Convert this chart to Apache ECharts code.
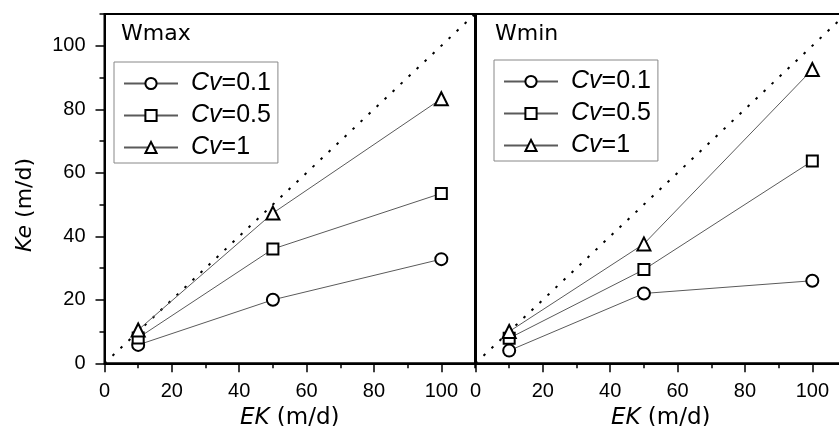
<!DOCTYPE html>
<html>
<head>
<meta charset="utf-8">
<script src="https://cdn.jsdelivr.net/npm/echarts@6/dist/echarts.min.js"></script>
<style>
  html, body { margin: 0; padding: 0; background: #fff; }
  #chart { width: 839px; height: 426px; }
</style>
</head>
<body>
<div id="chart"></div>
<script>
// EK values (m/d)
const ek = [10, 50, 100]
// Ke values, Wmax panel
const wmaxCv01 = [5.8, 20, 32.8]
const wmaxCv05 = [8, 36, 53.5]
const wmaxCv1 = [10.5, 47.3, 83.3]
// Wmin panel
const wminCv01 = [4, 22, 26]
const wminCv05 = [7.9, 29.5, 63.7]
const wminCv1 = [10, 37.6, 92.5]
// 1:1 reference line
const oneToOne = [[0, 0], [110, 110]]
const majorTicks = [0, 20, 40, 60, 80, 100]
const seriesNames = ['Cv=0.1', 'Cv=0.5', 'Cv=1']
const symbols = ['circle', 'rect', 'triangle']
const symbolSizes = [12, 11, 13]

const chart = echarts.init(document.getElementById('chart'))
const FONT = '"Liberation Sans", Arial, sans-serif'
const WIDE = '"DejaVu Sans", sans-serif'

const pair = (a, b) => a.map((x, i) => [x, b[i]])

function xMain(g) {
  return {
    gridIndex: g, type: 'value', position: 'bottom', min: 0, max: 110, interval: 20,
    name: '{i|EK} (m/d)', nameLocation: 'middle', nameGap: 32,
    nameTextStyle: { fontFamily: WIDE, fontSize: 23, color: '#000',
      rich: { i: { fontStyle: 'italic', fontFamily: WIDE, fontSize: 23, color: '#000' } } },
    axisLine: { show: true, lineStyle: { color: '#000', width: 2 } },
    axisTick: { show: true, inside: false, length: 9, customValues: majorTicks, lineStyle: { color: '#000', width: 1.5 } },
    axisLabel: { customValues: majorTicks, fontFamily: FONT, fontSize: 20, color: '#000', margin: 18 },
    splitLine: { show: false }
  }
}
function xMinor(g) {
  return {
    gridIndex: g, type: 'value', position: 'bottom', min: 0, max: 110, interval: 10,
    axisLine: { show: false },
    axisTick: { show: true, inside: false, length: 5, lineStyle: { color: '#000', width: 1.5 } },
    axisLabel: { show: false }, splitLine: { show: false }
  }
}

function mkSeries(data, i, xi, yi) {
  return {
    name: seriesNames[i], type: 'line', xAxisIndex: xi, yAxisIndex: yi,
    data: pair(ek, data), symbol: symbols[i], symbolSize: symbolSizes[i],
    lineStyle: { color: '#5a5a5a', width: 1 },
    itemStyle: { color: '#fff', borderColor: '#000', borderWidth: 2 },
    z: 3, animation: false
  }
}

function mkLegend(left, top) {
  return {
    orient: 'vertical', left: left, top: top, data: seriesNames,
    itemWidth: 54, itemHeight: 14, itemGap: 7, selectedMode: false,
    padding: [9, 7, 3, 9], borderColor: '#888', borderWidth: 1, backgroundColor: '#fff',
    formatter: n => n.replace('Cv', '{i|Cv}'),
    textStyle: { fontFamily: FONT, fontSize: 25, color: '#000', padding: [0, 0, 0, 8],
      rich: { i: { fontStyle: 'italic', fontFamily: FONT, fontSize: 25, color: '#000' } } }
  }
}

const gridBase = { top: 14, width: 370.5, height: 349.3, show: true, borderColor: '#000', borderWidth: 2, outerBoundsMode: 'none' }

chart.setOption({
  animation: false,
  grid: [
    Object.assign({ left: 104.5 }, gridBase),
    Object.assign({ left: 475.5 }, gridBase)
  ],
  xAxis: [xMain(0), xMinor(0), xMain(1), xMinor(1)],
  yAxis: [
    { gridIndex: 0, type: 'value', min: 0, max: 110, interval: 20,
      axisLine: { show: true, lineStyle: { color: '#000', width: 2 } },
      axisTick: { show: true, inside: false, length: 9, customValues: majorTicks, lineStyle: { color: '#000', width: 1.5 } },
      axisLabel: { customValues: majorTicks, fontFamily: FONT, fontSize: 20, color: '#000', margin: 19 },
      splitLine: { show: false } },
    { gridIndex: 0, type: 'value', position: 'left', min: 0, max: 110, interval: 10,
      axisLine: { show: false },
      axisTick: { show: true, inside: false, length: 5, lineStyle: { color: '#000', width: 1.5 } },
      axisLabel: { show: false }, splitLine: { show: false } },
    { gridIndex: 1, type: 'value', min: 0, max: 110, interval: 20,
      axisLine: { show: true, lineStyle: { color: '#000', width: 2 } },
      axisTick: { show: false }, axisLabel: { show: false }, splitLine: { show: false } }
  ],
  legend: [mkLegend(114, 62), mkLegend(494, 60)],
  graphic: [
    { type: 'text', left: 121, top: 23, style: { text: 'Wmax', fontFamily: WIDE, fontSize: 22, fill: '#000' } },
    { type: 'text', left: 495, top: 23, style: { text: 'Wmin', fontFamily: WIDE, fontSize: 22, fill: '#000' } },
    { type: 'text', x: 25, y: 205, rotation: Math.PI / 2,
      style: { text: '{i|Ke} (m/d)', fontFamily: WIDE, fontSize: 22, fill: '#000',
        align: 'center', verticalAlign: 'middle',
        rich: { i: { fontStyle: 'italic', fontFamily: WIDE, fontSize: 22, fill: '#000' } } } }
  ],
  series: [
    { type: 'line', xAxisIndex: 0, yAxisIndex: 0, data: oneToOne, symbol: 'none', silent: true,
      lineStyle: { color: '#000', width: 2, type: [2.5, 8.5] }, z: 1 },
    { type: 'line', xAxisIndex: 2, yAxisIndex: 2, data: oneToOne, symbol: 'none', silent: true,
      lineStyle: { color: '#000', width: 2, type: [2.5, 8.5] }, z: 1 },
    mkSeries(wmaxCv01, 0, 0, 0),
    mkSeries(wmaxCv05, 1, 0, 0),
    mkSeries(wmaxCv1, 2, 0, 0),
    mkSeries(wminCv01, 0, 2, 2),
    mkSeries(wminCv05, 1, 2, 2),
    mkSeries(wminCv1, 2, 2, 2)
  ]
})
window.addEventListener('resize', () => chart.resize())
</script>
</body>
</html>
